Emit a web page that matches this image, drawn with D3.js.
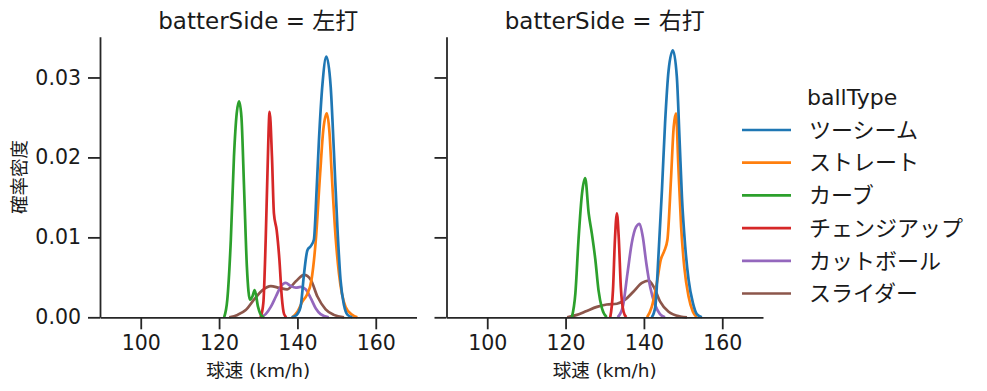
<!DOCTYPE html>
<html>
<head>
<meta charset="utf-8">
<script src="https://cdn.jsdelivr.net/npm/d3@7"></script>
<style>
  body { margin: 0; background: #fff; }
  text { font-family: "DejaVu Sans", "Noto Sans CJK JP", sans-serif; fill: #1a1a1a; }
</style>
</head>
<body>
<div id="chart"></div>
<script>
var ballTypes = ["ツーシーム", "ストレート", "カーブ", "チェンジアップ", "カットボール", "スライダー"];
var colors = ["#1f77b4", "#ff7f0e", "#2ca02c", "#d62728", "#9467bd", "#8c564b"];
var facetTitles = ["batterSide = 左打", "batterSide = 右打"];
var xTicks = [100, 120, 140, 160];
var yTicks = [0, 0.01, 0.02, 0.03];

// [球速, 確率密度]
var leftTwoSeam = [[138.5,0],[139.8,0.0003],[140.8,0.0013],[141.7,0.0055],[142.55,0.0084],[143.4,0.0089],[144.2,0.0097],[144.9,0.0159],[145.5,0.0222],[146.4,0.0292],[147.4,0.0326],[148.5,0.0288],[149.3,0.0209],[150.2,0.0113],[151.0,0.0047],[151.9,0.0015],[152.8,0.0003],[154.0,0]];
var leftStraight = [[138.7,0],[140.0,0.0007],[141.3,0.0020],[142.4,0.0028],[143.6,0.0047],[144.7,0.0097],[145.8,0.0180],[146.6,0.0234],[147.5,0.0255],[148.2,0.0230],[148.75,0.0180],[149.8,0.0097],[150.6,0.0055],[152.3,0.0013],[154.0,0.0003],[155.3,0]];
var leftCurve = [[121.3,0],[122.1,0.0022],[123.0,0.0097],[123.8,0.0201],[124.5,0.0255],[125.1,0.0270],[125.7,0.0251],[126.4,0.0159],[127.1,0.0063],[127.9,0.0022],[128.5,0.0026],[129.1,0.0034],[129.95,0.0013],[130.8,0.0002],[131.5,0]];
var leftChangeup = [[130.6,0],[131.3,0.0018],[131.9,0.0097],[132.35,0.0180],[132.9,0.0257],[133.5,0.0201],[134.0,0.0130],[134.7,0.0109],[135.4,0.0072],[136.0,0.0026],[136.6,0.0004],[137.2,0]];
var leftCutter = [[130.6,0],[131.9,0.0004],[133.2,0.0013],[134.5,0.0026],[135.7,0.0038],[137.0,0.0043],[138.3,0.0039],[139.6,0.0037],[140.8,0.0038],[142.1,0.0035],[143.4,0.0024],[144.7,0.0011],[145.9,0.0004],[148.0,0]];
var leftSlider = [[122.6,0],[124.7,0.0003],[126.8,0.0009],[128.9,0.0022],[131.1,0.0034],[133.2,0.0039],[135.3,0.0037],[137.4,0.0035],[139.6,0.0045],[141.7,0.0053],[143.4,0.0047],[145.1,0.0026],[147.2,0.0010],[149.3,0.0003],[151.9,0]];

var rightTwoSeam = [[142.0,0],[142.9,0.0013],[143.7,0.0076],[144.6,0.0159],[145.4,0.0243],[146.3,0.0309],[147.4,0.0334],[148.4,0.0301],[149.1,0.0222],[149.7,0.0151],[150.55,0.0088],[151.4,0.0047],[152.5,0.0018],[153.5,0.0004],[154.8,0]];
var rightStraight = [[140.8,0],[142.0,0.0013],[143.3,0.0043],[144.3,0.0072],[145.2,0.0083],[146.0,0.0097],[146.9,0.0172],[147.6,0.0238],[148.2,0.0255],[148.8,0.0188],[149.5,0.0113],[150.3,0.0063],[151.4,0.0026],[152.5,0.0007],[153.5,0]];
var rightCurve = [[121.6,0],[122.5,0.0030],[123.3,0.0097],[124.2,0.0155],[125.0,0.0174],[125.9,0.0130],[126.7,0.0105],[127.6,0.0072],[128.4,0.0034],[129.3,0.0011],[130.5,0]];
var rightChangeup = [[131.4,0],[132.1,0.0034],[132.6,0.0097],[133.1,0.0130],[133.6,0.0097],[134.1,0.0038],[134.8,0.0007],[135.5,0]];
var rightCutter = [[133.3,0],[134.6,0.0013],[135.8,0.0055],[136.9,0.0093],[138.0,0.0113],[138.9,0.0117],[139.7,0.0101],[140.6,0.0068],[141.6,0.0038],[142.9,0.0015],[144.1,0.0004],[145.4,0]];
var rightSlider = [[120.4,0],[122.9,0.0003],[125.4,0.0008],[128.0,0.0013],[130.5,0.0016],[133.1,0.0017],[135.2,0.0022],[137.3,0.0032],[139.5,0.0043],[141.2,0.0046],[142.5,0.0038],[144.1,0.0020],[146.3,0.0007],[149.3,0.0001],[151.0,0]];

var facetSeries = [
  [leftTwoSeam, leftStraight, leftCurve, leftChangeup, leftCutter, leftSlider],
  [rightTwoSeam, rightStraight, rightCurve, rightChangeup, rightCutter, rightSlider]
];

var width = 987, height = 391;
var plotWidth = 316.5, plotHeight = 280.6;
var panelLeft = [100, 446.5];
var plotTop = 36.7;
var ink = "#262626";

var svg = d3.select("#chart").append("svg")
  .attr("width", width)
  .attr("height", height);

var xScale = d3.scaleLinear().domain([89.6, 170.4]).range([0, plotWidth]);
var yScale = d3.scaleLinear().domain([0, 0.0351]).range([plotHeight, 0]);

var line = d3.line()
  .x(function(d) { return xScale(d[0]); })
  .y(function(d) { return yScale(d[1]); })
  .curve(d3.curveMonotoneX);

facetSeries.forEach(function(series, f) {
  var panel = svg.append("g")
    .attr("transform", "translate(" + [panelLeft[f], plotTop] + ")");

  // draw last hue first so ツーシーム ends on top
  for (var i = series.length - 1; i >= 0; i--) {
    panel.append("path")
      .datum(series[i])
      .attr("fill", "none")
      .attr("stroke", colors[i])
      .attr("stroke-width", 2.7)
      .attr("stroke-linejoin", "round")
      .attr("d", line);
  }

  panel.append("g")
    .attr("class", "axis x")
    .attr("transform", "translate(0," + plotHeight + ")")
    .call(d3.axisBottom(xScale).tickValues(xTicks).tickSize(12).tickSizeOuter(0).tickPadding(6.5));

  panel.append("g")
    .attr("class", "axis y")
    .call(d3.axisLeft(yScale).tickValues(yTicks).tickSize(12).tickSizeOuter(0).tickPadding(7)
      .tickFormat(f === 0 ? d3.format(".2f") : ""));

  panel.selectAll(".axis path, .axis line")
    .attr("stroke", ink)
    .attr("stroke-width", 1.8);
  panel.selectAll(".axis text")
    .attr("font-family", "DejaVu Sans")
    .attr("font-size", 20.5)
    .attr("fill", ink);

  panel.append("text")
    .attr("x", plotWidth / 2)
    .attr("y", 29.3 - plotTop)
    .attr("text-anchor", "middle")
    .attr("font-size", 23)
    .text(facetTitles[f]);

  panel.append("text")
    .attr("x", plotWidth / 2)
    .attr("y", 376.7 - plotTop)
    .attr("text-anchor", "middle")
    .attr("font-size", 18.5)
    .text("球速 (km/h)");
});

svg.append("text")
  .attr("transform", "translate(" + [26, plotTop + plotHeight / 2] + ")rotate(-90)")
  .attr("text-anchor", "middle")
  .attr("font-size", 18.5)
  .text("確率密度");

// legend
var legend = svg.append("g").attr("transform", "translate(742,0)");
legend.append("text")
  .attr("x", 65)
  .attr("y", 105)
  .attr("font-size", 22)
  .text("ballType");

var entry = legend.selectAll(".entry")
  .data(ballTypes)
  .enter().append("g")
  .attr("class", "entry")
  .attr("transform", function(d, i) { return "translate(0," + (130 + i * 32.7) + ")"; });

entry.append("line")
  .attr("x1", 0)
  .attr("x2", 49)
  .attr("stroke", function(d, i) { return colors[i]; })
  .attr("stroke-width", 2.7);

entry.append("text")
  .attr("x", 67)
  .attr("dy", "0.35em")
  .attr("font-size", 22)
  .text(function(d) { return d; });
</script>
</body>
</html>
